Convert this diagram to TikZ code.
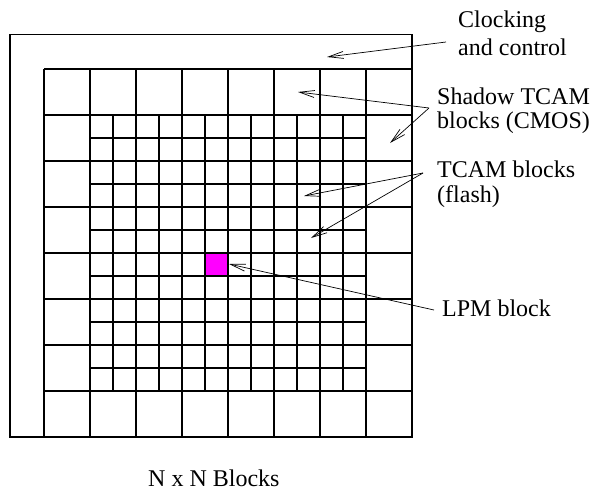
\documentclass[tikz,border=0pt]{standalone}
\usepackage{fontspec}
\setmainfont{Liberation Serif}
\usetikzlibrary{arrows.meta}
\definecolor{lpmcol}{RGB}{255,0,255}
\begin{document}
\begin{tikzpicture}[x=1pt,y=-1pt,
  gridline/.style={line width=1.2pt},
  finegrid/.style={line width=1.1pt},
  pointer/.style={line width=0.7pt,-{Straight Barb[length=15pt,width=7pt,line width=0.7pt]}},
  lbl/.style={inner sep=0pt,anchor=base west,font=\fontsize{24}{27}\selectfont}]
\useasboundingbox (0,0) rectangle (592,491);
% LPM block fill
\fill[lpmcol] (205,253) rectangle (228,276);
% outer clocking and control frame
\draw[gridline] (10,34.5) rectangle (412,437);
% 8x8 shadow grid
\foreach \x in {44,90,136,182,228,274,320,366,412} \draw[gridline] (\x,69) -- (\x,437);
\foreach \y in {69,115,161,207,253,299,345,391,437} \draw[gridline] (44,\y) -- (412,\y);
% fine 12x12 TCAM grid
\foreach \i in {0,...,12} {
  \draw[finegrid] ({90+23*\i},115) -- ({90+23*\i},391);
  \draw[finegrid] (90,{115+23*\i}) -- (366,{115+23*\i});
}
% labels
\node[lbl] (clk1) at (458,27) {Clocking};
\node[lbl] (clk2) at (458,55) {and control};
\node[lbl] (sh1) at (437,104) {Shadow TCAM};
\node[lbl] (sh2) at (437,128) {blocks (CMOS)};
\node[lbl] (tc1) at (437,177) {TCAM blocks};
\node[lbl] (tc2) at (437,202) {(flash)};
\node[lbl] (lpm) at (442,316) {LPM block};
\node[lbl] (nxn) at (148,486) {N x N Blocks};
% connector coordinates
\coordinate (clkS) at (446,42);
\coordinate (clkT) at (327,57);
\coordinate (shS) at (429,108);
\coordinate (shT1) at (298,92);
\coordinate (shT2) at (390,143);
\coordinate (tcS) at (423,173);
\coordinate (tcT1) at (304,196);
\coordinate (tcT2) at (311,238);
\coordinate (lpmS) at (434,310);
\coordinate (lpmT) at (229,264);
\draw[pointer] (clkS) -- (clkT);
\draw[pointer] (shS) -- (shT1);
\draw[pointer] (shS) -- (shT2);
\draw[pointer] (tcS) -- (tcT1);
\draw[pointer] (tcS) -- (tcT2);
\draw[pointer] (lpmS) -- (lpmT);
\end{tikzpicture}
\end{document}
